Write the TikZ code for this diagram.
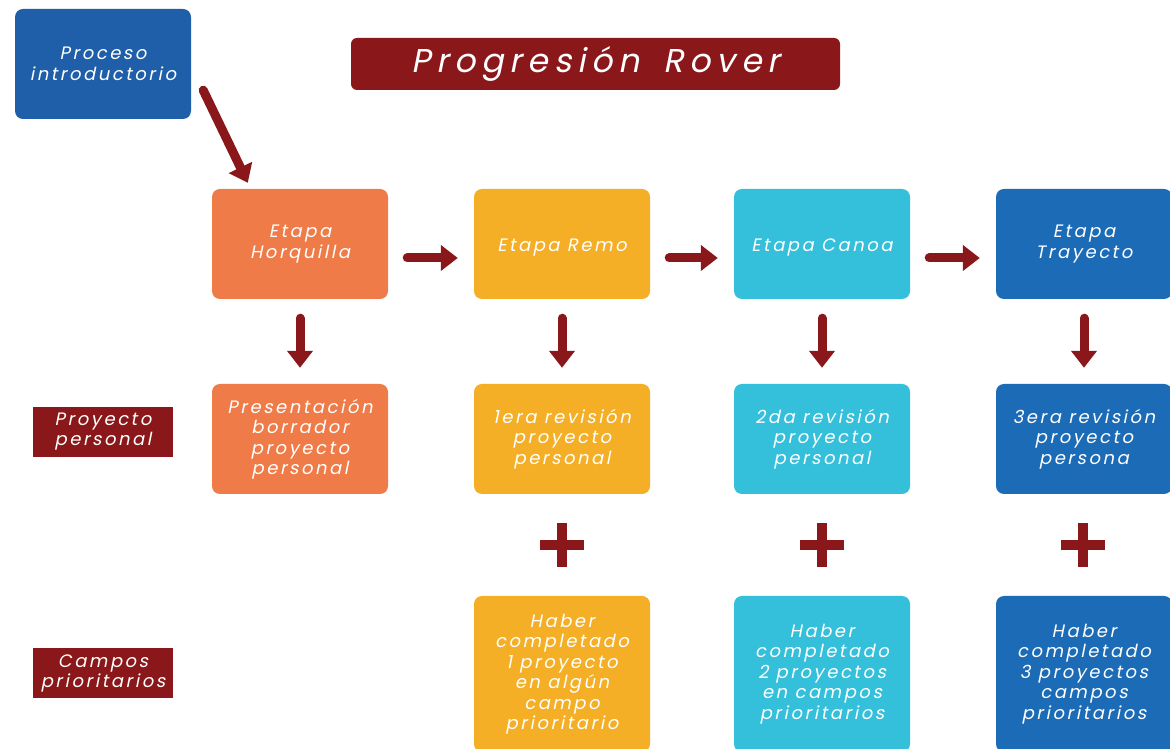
\documentclass[tikz,border=0pt]{standalone}
\usepackage{fontspec}
\usetikzlibrary{arrows.meta,calc}
\newfontfamily\gothfont{Poppins}[FakeSlant=0.2,LetterSpace=14]
\newfontfamily\titlefont{Poppins}[FakeSlant=0.2,LetterSpace=18]
\definecolor{dred}{HTML}{8A171A}
\definecolor{introblue}{HTML}{1F5EA8}
\definecolor{corange}{HTML}{EE7B48}
\definecolor{cyellow}{HTML}{F4AF27}
\definecolor{ccyan}{HTML}{34BFDB}
\definecolor{cblue}{HTML}{1B6BB6}
\tikzset{
  stagebox/.style={rounded corners=8pt, minimum width=176pt, minimum height=110pt,
    text=white, align=center, inner sep=0pt,
    font={\gothfont\fontsize{18}{20.5}\selectfont},
    execute at begin node={\rule{0pt}{19pt}}},
  sidelabel/.style={fill=dred, minimum width=140pt, minimum height=50pt,
    text=white, align=center, inner sep=0pt,
    font={\gothfont\fontsize{18}{20}\selectfont}},
  arr/.style={draw=dred, line width=9pt, line cap=round,
    -{Triangle[length=17pt,width=25pt]}},
  plusbar/.style={fill=dred},
}
\begin{document}
\begin{tikzpicture}[x=1pt,y=1pt]
\useasboundingbox (0,0) rectangle (1170,749);
\clip (0,0) rectangle (1170,749);
\fill[white] (0,0) rectangle (1170,749);

% header
\node[stagebox, fill=introblue] (intro) at (103,685) {Proceso\\introductorio};
\node[fill=dred, rounded corners=6pt, minimum width=489pt, minimum height=52pt,
  inner sep=0pt, text=white, font={\titlefont\fontsize{33}{38}\selectfont}]
  (title) at (595.5,685) {Progresión\hspace{24pt}Rover};

% stages
\node[stagebox, fill=corange] (horq) at (300,505) {Etapa\\Horquilla};
\node[stagebox, fill=cyellow] (remo) at (562,505) {Etapa Remo};
\node[stagebox, fill=ccyan] (canoa) at (822,505) {Etapa Canoa};
\node[stagebox, fill=cblue] (tray) at (1084,505) {Etapa\\Trayecto};

% personal project reviews
\node[stagebox, fill=corange] (pp0) at (300,310) {Presentación\\borrador\\proyecto\\personal};
\node[stagebox, fill=cyellow] (pp1) at (562,310) {1era revisión\\proyecto\\personal};
\node[stagebox, fill=ccyan] (pp2) at (822,310) {2da revisión\\proyecto\\personal};
\node[stagebox, fill=cblue] (pp3) at (1084,310) {3era revisión\\proyecto\\persona};

% priority fields
\node[stagebox, fill=cyellow, minimum height=156pt] (cp1) at (562,75)
  {Haber\\completado\\1 proyecto\\en algún\\campo\\prioritario};
\node[stagebox, fill=ccyan, minimum height=156pt] (cp2) at (822,75)
  {Haber\\completado\\2 proyectos\\en campos\\prioritarios};
\node[stagebox, fill=cblue, minimum height=156pt] (cp3) at (1084,75)
  {Haber\\completado\\3 proyectos\\campos\\prioritarios};

% row labels
\node[sidelabel] (lblpp) at (103,317) {Proyecto\\personal};
\node[sidelabel] (lblcp) at (103,76) {Campos\\prioritarios};

% plus signs
\foreach \px/\nm in {562/plusA, 822/plusB, 1083/plusC}{
  \coordinate (\nm) at (\px,204);
  \fill[plusbar] ($(\nm)+(-22,-5)$) rectangle ($(\nm)+(22,5)$);
  \fill[plusbar] ($(\nm)+(-5,-22)$) rectangle ($(\nm)+(5,22)$);
}

% flow arrows
\draw[arr] ($(intro.south east)+(12,29)$) -- ($(horq.north west)+(36,6)$);
\draw[arr, shorten <=19pt, shorten >=16pt] ([yshift=-14pt]horq.east) -- ([yshift=-14pt]remo.west);
\draw[arr, shorten <=19pt, shorten >=16pt] ([yshift=-14pt]remo.east) -- ([yshift=-14pt]canoa.west);
\draw[arr, shorten <=19pt, shorten >=16pt] ([yshift=-14pt]canoa.east) -- ([yshift=-14pt]tray.west);

\draw[arr, shorten <=19pt, shorten >=16pt] (horq.south) -- (pp0.north);
\draw[arr, shorten <=19pt, shorten >=16pt] (remo.south) -- (pp1.north);
\draw[arr, shorten <=19pt, shorten >=16pt] (canoa.south) -- (pp2.north);
\draw[arr, shorten <=19pt, shorten >=16pt] (tray.south) -- (pp3.north);
\end{tikzpicture}
\end{document}
